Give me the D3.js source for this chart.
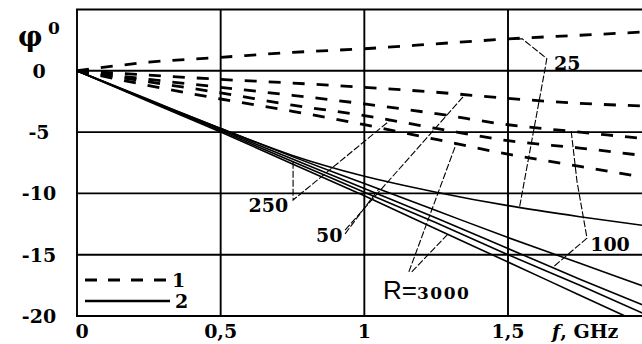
<!DOCTYPE html>
<html lang="en">
<head>
<meta charset="UTF-8">
<title>phase vs frequency</title>
<script src="https://cdn.jsdelivr.net/npm/d3@7"></script>
<style>
  body { margin: 0; background: #fff; }
  text { font-family: "DejaVu Serif", serif; font-weight: bold; fill: #000; }
</style>
</head>
<body>
<script>
// frequency grid, GHz
var freq = [0, 0.25, 0.5, 0.75, 1, 1.25, 1.5, 1.75, 2];
var rValues = [25, 50, 100, 250, 3000];

// curve 1 (dashed), phase in degrees
var dashed25   = [0, 0.7, 1.1, 1.5, 1.8, 2.2, 2.6, 2.9, 3.2];
var dashed50   = [0, -0.35, -0.7, -1.0, -1.35, -1.75, -2.25, -2.65, -2.9];
var dashed100  = [0, -0.7, -1.35, -2.0, -2.7, -3.5, -4.4, -5.0, -5.6];
var dashed250  = [0, -0.9, -1.8, -2.8, -3.65, -4.7, -5.7, -6.3, -7.0];
var dashed3000 = [0, -1.2, -2.3, -3.3, -4.4, -5.6, -6.8, -7.8, -8.8];

// curve 2 (solid)
var solid25   = [0, -2.4, -4.7, -6.9, -8.6, -9.9, -11.0, -11.9, -12.7];
var solid50   = [0, -2.35, -4.7, -7.0, -9.2, -11.4, -13.6, -15.7, -17.8];
var solid100  = [0, -2.4, -4.8, -7.2, -9.6, -12.0, -14.5, -17.0, -19.4];
var solid250  = [0, -2.45, -4.9, -7.4, -9.9, -12.4, -15.0, -17.5, -20.1];
var solid3000 = [0, -2.5, -5.0, -7.6, -10.2, -12.9, -15.6, -18.3, -21.0];

var xTicks = [0, 0.5, 1, 1.5];
var xTickLabels = ["0", "0,5", "1", "1,5"];
var yTicks = [0, -5, -10, -15, -20];

var width = 642, height = 344;

var x = d3.scaleLinear().domain([0, 1.5]).range([77, 508]);
var y = d3.scaleLinear().domain([-20, 5]).range([316, 9.5]);

var svg = d3.select("body").append("svg")
  .attr("width", width)
  .attr("height", height);

svg.append("defs").append("clipPath").attr("id", "plot")
  .append("rect")
  .attr("x", x(0)).attr("y", y(5))
  .attr("width", x(2) - x(0)).attr("height", y(-20) - y(5));

// grid and frame
var grid = svg.append("g").attr("stroke", "#000").attr("stroke-width", 1.9);
grid.selectAll("line.v").data(xTicks.concat([2])).enter().append("line")
  .attr("x1", d => x(d)).attr("x2", d => x(d))
  .attr("y1", y(5)).attr("y2", y(-20));
grid.selectAll("line.h").data(yTicks.concat([5])).enter().append("line")
  .attr("x1", x(0) - 1).attr("x2", x(2))
  .attr("y1", d => y(d)).attr("y2", d => y(d));

// tick labels
svg.selectAll("text.yl").data(yTicks).enter().append("text")
  .attr("x", 39).attr("y", d => y(d) + 7)
  .attr("text-anchor", "middle")
  .style("font-size", "19px")
  .text(d => d === 0 ? "0" : "-" + Math.abs(d));

svg.selectAll("text.xl").data(xTicks).enter().append("text")
  .attr("x", (d, i) => x(d) + (i === 0 ? 5 : 0)).attr("y", 338)
  .attr("text-anchor", "middle")
  .style("font-size", "19px")
  .text((d, i) => xTickLabels[i]);

var fl = svg.append("text").attr("x", 552).attr("y", 338).style("font-size", "19px");
fl.append("tspan").style("font-style", "italic").text("f");
fl.append("tspan").text(", GHz");

svg.append("text").attr("x", 18).attr("y", 46)
  .style("font-size", "27px")
  .text("\u03c6");
svg.append("text").attr("x", 48).attr("y", 34).style("font-size", "17px").text("0");

// curves
var line = d3.line()
  .x((d, i) => x(freq[i]))
  .y(d => y(d))
  .curve(d3.curveMonotoneX);

var dashedSeries = [dashed25, dashed50, dashed100, dashed250, dashed3000];
var solidSeries = [solid25, solid50, solid100, solid250, solid3000];

var curves = svg.append("g").attr("clip-path", "url(#plot)").attr("fill", "none").attr("stroke", "#000");
curves.selectAll("path.s").data(solidSeries).enter().append("path")
  .attr("d", line).attr("stroke-width", 1.6);
curves.selectAll("path.d").data(dashedSeries).enter().append("path")
  .attr("d", line).attr("stroke-width", 2.8).attr("stroke-dasharray", "12,12");

// value of a series at frequency f
function at(series, f) {
  return d3.scaleLinear().domain(freq).range(series)(f);
}

// leader lines, data coordinates [f, phi]
var leaders = [
  [[1.5, at(dashed25, 1.5)], [1.55, at(dashed25, 1.5)], [1.635, 1.0], [1.63, 0.3], [1.54, at(solid25, 1.54)]],
  [[1.72, at(dashed100, 1.72)], [1.74, -9.0], [1.775, -13.65], [1.655, at(solid100, 1.655)]],
  [[0.752, at(solid250, 0.752)], [0.752, -10.54], [1.09, at(dashed250, 1.09)]],
  [[0.933, -13.0], [1.35, at(dashed50, 1.35)]],
  [[0.933, -13.3], [1.05, at(solid50, 1.05)]],
  [[1.155, -16.4], [1.32, at(dashed3000, 1.32)]],
  [[1.165, -16.4], [1.29, at(solid3000, 1.29)]]
];
var leaderLine = d3.line().x(d => x(d[0])).y(d => y(d[1]));
svg.append("g").attr("fill", "none").attr("stroke", "#000").attr("stroke-width", 1.1)
  .attr("stroke-dasharray", "7,2")
  .selectAll("path").data(leaders).enter().append("path")
  .attr("d", leaderLine);

// curve labels
var labels = [
  {t: "25", f: 1.66, p: 0.05, a: "start"},
  {t: "100", f: 1.786, p: -14.7, a: "start"},
  {t: "250", f: 0.735, p: -11.5, a: "end"},
  {t: "50", f: 0.924, p: -13.95, a: "end"}
];
svg.selectAll("text.cl").data(labels).enter().append("text")
  .attr("x", d => x(d.f)).attr("y", d => y(d.p))
  .attr("text-anchor", d => d.a)
  .style("font-size", "19px")
  .text(d => d.t);

var rl = svg.append("text").attr("x", x(1.065)).attr("y", y(-18.6));
rl.append("tspan").style("font-family", "Liberation Sans").style("font-weight", "normal")
  .style("font-size", "26px").text("R=");
rl.append("tspan").style("font-size", "17px").style("letter-spacing", "1.5px").text(rValues[4]);

// legend
var legend = svg.append("g");
legend.append("line").attr("x1", 85).attr("x2", 170).attr("y1", 280).attr("y2", 280)
  .attr("stroke", "#000").attr("stroke-width", 2.8).attr("stroke-dasharray", "12,11");
legend.append("line").attr("x1", 85).attr("x2", 170).attr("y1", 301).attr("y2", 301)
  .attr("stroke", "#000").attr("stroke-width", 2.4);
legend.append("text").attr("x", 172).attr("y", 287).style("font-size", "19px").text("1");
legend.append("text").attr("x", 175).attr("y", 308).style("font-size", "19px").text("2");
</script>
</body>
</html>
